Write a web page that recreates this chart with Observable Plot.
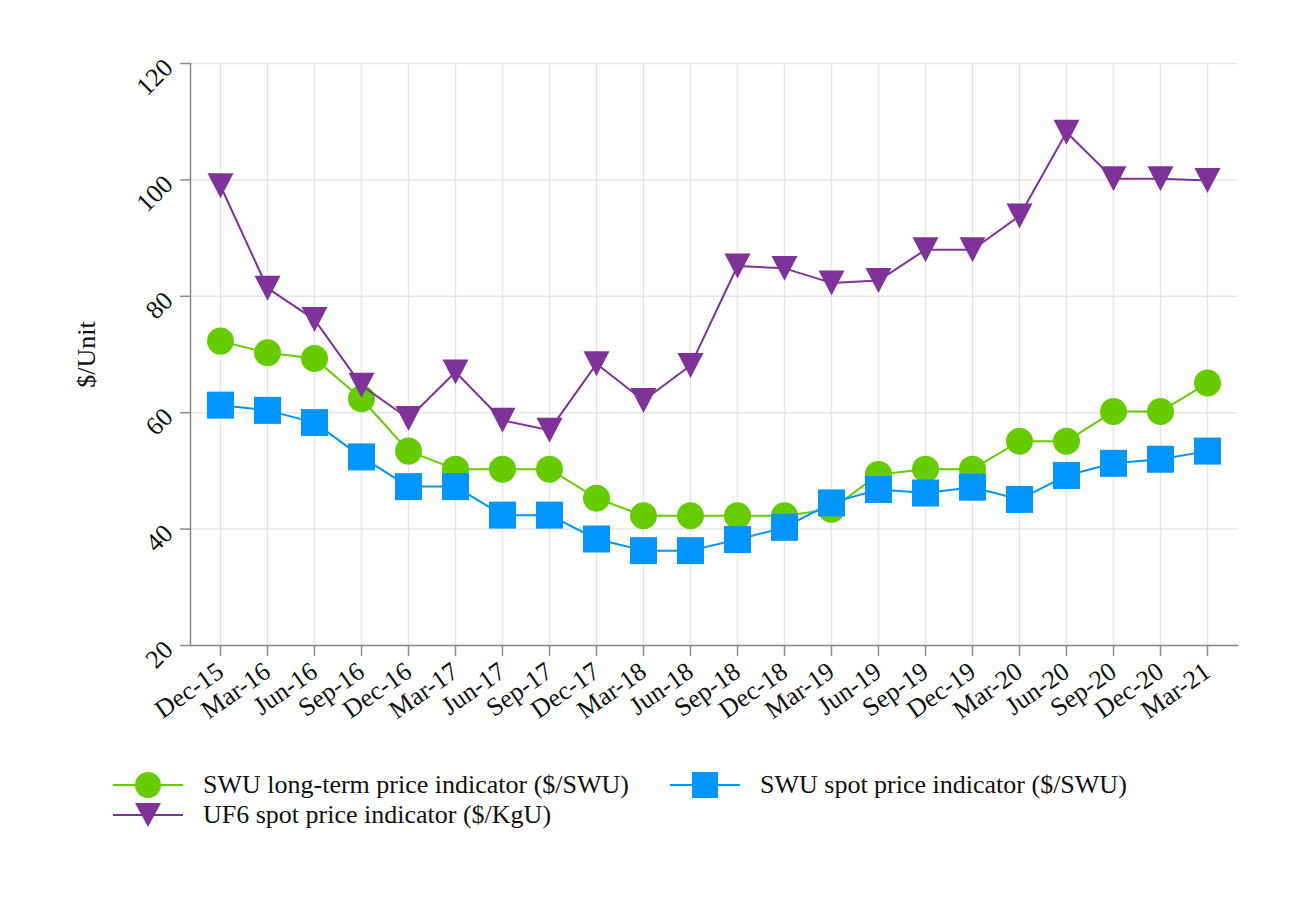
<!DOCTYPE html>
<html>
<head>
<meta charset="utf-8">
<script src="https://cdn.jsdelivr.net/npm/d3@7"></script>
<script src="https://cdn.jsdelivr.net/npm/@observablehq/plot@0.6"></script>
<style>
  html, body { margin: 0; padding: 0; background: #fff; }
  #wrap { position: relative; width: 1300px; height: 900px; font-family: "Liberation Serif", "Times New Roman", serif; }
  #chart { position: absolute; left: 0; top: 0; }
  .leg { position: absolute; display: flex; align-items: center; font-size: 26px; color: #111; white-space: nowrap; }
  .leg svg { margin-right: 20px; }
</style>
</head>
<body>
<div id="wrap">
  <div id="chart"></div>
  <div id="legend"></div>
</div>
<script>
const dates = ["Dec-15","Mar-16","Jun-16","Sep-16","Dec-16","Mar-17","Jun-17","Sep-17","Dec-17","Mar-18","Jun-18","Sep-18","Dec-18","Mar-19","Jun-19","Sep-19","Dec-19","Mar-20","Jun-20","Sep-20","Dec-20","Mar-21"];
const swuLongTerm = [72.3,70.3,69.3,62.4,53.4,50.3,50.3,50.3,45.3,42.3,42.3,42.3,42.3,43.4,49.4,50.3,50.3,55.1,55.1,60.2,60.2,65.1];
const swuSpot = [61.3,60.4,58.3,52.4,47.3,47.3,42.4,42.4,38.3,36.3,36.3,38.2,40.3,44.5,46.8,46.2,47.2,45.1,49.2,51.3,52.0,53.4];
const uf6Spot = [99.0,81.4,76.0,64.7,59.0,67.0,58.7,57.0,68.4,62.1,68.1,85.2,84.8,82.3,82.7,88.0,88.0,93.8,108.2,100.2,100.2,99.9];
const yTicks = [20,40,60,80,100,120];
const seriesNames = ["SWU long-term price indicator ($/SWU)", "SWU spot price indicator ($/SWU)", "UF6 spot price indicator ($/KgU)"];
const colors = ["#66CC00", "#0095FF", "#7F3399"];

const squareSym = { draw(ctx, size) { const r = Math.sqrt(size / Math.PI); ctx.rect(-r, -r, 2 * r, 2 * r); } };
const triDownSym = { draw(ctx, size) { const r = Math.sqrt(size / Math.PI); const hh = r * 0.96; ctx.moveTo(-r, -hh); ctx.lineTo(r, -hh); ctx.lineTo(0, hh); ctx.closePath(); } };

const rows = (vals) => dates.map((d, i) => ({date: d, value: vals[i]}));
const green = rows(swuLongTerm), blue = rows(swuSpot), purple = rows(uf6Spot);

const fontFamily = '"Liberation Serif", "Times New Roman", serif';

const plot = Plot.plot({
  width: 1300,
  height: 760,
  marginLeft: 190,
  marginRight: 63,
  marginTop: 63,
  marginBottom: 115,
  style: { fontFamily, fontSize: "26px", color: "#111", background: "transparent" },
  x: { type: "point", domain: dates, padding: 0.5 },
  y: { domain: [20, 120] },
  marks: [
    Plot.gridX({ stroke: "#e6e6e6", strokeOpacity: 1, strokeWidth: 1.5 }),
    Plot.gridY(yTicks, { stroke: "#e6e6e6", strokeOpacity: 1, strokeWidth: 1.5 }),
    Plot.frame({ anchor: "left", stroke: "#8c8c8c", strokeWidth: 1.5 }),
    Plot.frame({ anchor: "bottom", stroke: "#8c8c8c", strokeWidth: 1.5 }),
    Plot.axisY(yTicks, {
      tickSize: 10, tickPadding: 12, tickRotate: -45, stroke: "#8c8c8c", strokeWidth: 1.5,
      label: "$/Unit", labelAnchor: "center", labelArrow: "none", labelOffset: 114, fontSize: 26
    }),
    Plot.axisX({ tickSize: 11, tickPadding: 12, tickRotate: -35, stroke: "#8c8c8c", strokeWidth: 1.5, label: null, fontSize: 26, textStroke: "none" }),
    Plot.line(green, { x: "date", y: "value", stroke: colors[0], strokeWidth: 2 }),
    Plot.dot(green, { x: "date", y: "value", r: 13.5, fill: colors[0], symbol: "circle" }),
    Plot.line(blue, { x: "date", y: "value", stroke: colors[1], strokeWidth: 2 }),
    Plot.dot(blue, { x: "date", y: "value", r: 13.5, fill: colors[1], symbol: squareSym }),
    Plot.line(purple, { x: "date", y: "value", stroke: colors[2], strokeWidth: 2 }),
    Plot.dot(purple, { x: "date", y: "value", r: 13, fill: colors[2], symbol: triDownSym })
  ]
});
document.getElementById("chart").appendChild(plot);

// Legend (HTML below the SVG)
const legendPos = [
  { left: 113, top: 770 },
  { left: 670, top: 770 },
  { left: 113, top: 800 }
];
const markerSvg = (i) => {
  const c = colors[i];
  let m;
  if (i === 0) m = `<circle cx="35" cy="15" r="13" fill="${c}"/>`;
  else if (i === 1) m = `<rect x="22" y="2" width="26" height="26" fill="${c}"/>`;
  else m = `<path d="M22,3 L48,3 L35,27 Z" fill="${c}"/>`;
  return `<svg width="70" height="30"><line x1="0" x2="70" y1="15" y2="15" stroke="${c}" stroke-width="2"/>${m}</svg>`;
};
const legend = document.getElementById("legend");
seriesNames.forEach((name, i) => {
  const el = document.createElement("div");
  el.className = "leg";
  el.style.left = legendPos[i].left + "px";
  el.style.top = legendPos[i].top + "px";
  el.innerHTML = markerSvg(i) + `<span></span>`;
  el.querySelector("span").textContent = name;
  legend.appendChild(el);
});
</script>
</body>
</html>
